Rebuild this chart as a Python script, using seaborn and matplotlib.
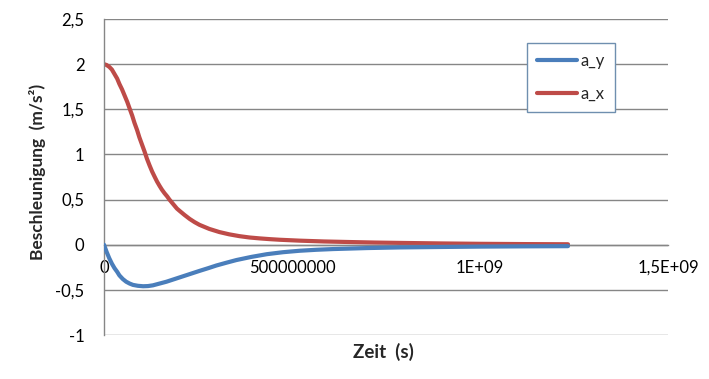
import numpy as np
import pandas as pd
import matplotlib
matplotlib.use("Agg")
import matplotlib.pyplot as plt
import seaborn as sns
from matplotlib.ticker import FixedLocator, FixedFormatter

# --- data (time in s, acceleration in m/s^2) ---
t_x = [0, 7e6, 14e6, 21e6, 28e6, 35e6, 41e6, 48e6, 55e6, 62e6, 68e6, 75e6,
       81e6, 88e6, 94e6, 101e6, 108e6, 114e6, 121e6, 128e6, 135e6, 141e6,
       148e6, 154e6, 161e6, 168e6, 174e6, 181e6, 188e6, 194e6, 201e6, 214e6,
       228e6, 241e6, 254e6, 280e6, 307e6, 333e6, 360e6, 387e6, 414e6, 440e6,
       467e6, 520e6, 585e6, 650e6, 720e6, 787e6, 900e6, 1000e6, 1120e6, 1234e6]
a_x = [2.0, 1.99, 1.97, 1.94, 1.89, 1.84, 1.78, 1.72, 1.65, 1.58, 1.51, 1.43,
       1.35, 1.27, 1.19, 1.11, 1.03, 0.955, 0.88, 0.81, 0.75, 0.70,
       0.65, 0.61, 0.57, 0.535, 0.50, 0.465, 0.43, 0.40, 0.375, 0.33,
       0.285, 0.25, 0.22, 0.175, 0.14, 0.115, 0.095, 0.08, 0.07, 0.062,
       0.055, 0.045, 0.036, 0.03, 0.024, 0.02, 0.014, 0.01, 0.007, 0.005]

t_y = [0, 7e6, 14e6, 21e6, 28e6, 35e6, 41e6, 50e6, 59e6, 68e6, 77e6, 90e6,
       104e6, 117e6, 130e6, 148e6, 166e6, 188e6, 210e6, 232e6, 254e6, 277e6,
       299e6, 325e6, 352e6, 392e6, 433e6, 476e6, 520e6, 565e6, 610e6, 700e6,
       787e6, 900e6, 1000e6, 1120e6, 1234e6]
a_y = [0, -0.08, -0.15, -0.21, -0.26, -0.30, -0.34, -0.38, -0.41, -0.43, -0.445,
       -0.455, -0.46, -0.458, -0.45, -0.43, -0.41, -0.38, -0.35, -0.32, -0.29,
       -0.26, -0.23, -0.20, -0.17, -0.135, -0.105, -0.083, -0.067, -0.056,
       -0.048, -0.037, -0.03, -0.025, -0.021, -0.018, -0.016]

y_ticks = [-1, -0.5, 0, 0.5, 1, 1.5, 2, 2.5]
y_tick_labels = ["-1", "-0,5", "0", "0,5", "1", "1,5", "2", "2,5"]
x_ticks = [0, 5e8, 1e9, 1.5e9]
x_tick_labels = ["0", "500000000", "1E+09", "1,5E+09"]

sns.set_style("white")
plt.rcParams['font.family'] = ['Lato', 'DejaVu Sans']

fig = plt.figure(figsize=(7.09, 3.79), dpi=100)
ax = fig.add_axes([104 / 709, 1 - 335 / 379, (668 - 104) / 709, (335 - 19) / 379])

grid_col = "#868686"
for v in y_ticks:
    ax.axhline(v, color=grid_col, lw=1.0, zorder=0)

sns.lineplot(x=t_y, y=a_y, ax=ax, color="#4A7EBB", lw=3, label="a_y",
             sort=False, zorder=3)
sns.lineplot(x=t_x, y=a_x, ax=ax, color="#BE4B48", lw=3, label="a_x",
             sort=False, zorder=2)

ax.set_xlim(0, 1.5e9)
ax.set_ylim(-1, 2.5)

for s in ["top", "right"]:
    ax.spines[s].set_visible(False)
ax.spines["bottom"].set_position(("data", 0))
ax.spines["bottom"].set_color(grid_col)
ax.spines["left"].set_color(grid_col)
ax.spines["bottom"].set_linewidth(1.0)
ax.spines["left"].set_linewidth(1.0)

ax.yaxis.set_major_locator(FixedLocator(y_ticks))
ax.yaxis.set_major_formatter(FixedFormatter(y_tick_labels))
ax.xaxis.set_major_locator(FixedLocator(x_ticks))
ax.xaxis.set_major_formatter(FixedFormatter(x_tick_labels))
ax.tick_params(axis="both", direction="out", length=6, width=1.0,
               color=grid_col, labelsize=12, labelcolor="black")
ax.tick_params(axis="y", pad=8)
ax.tick_params(axis="x", pad=5)

ax.set_xlabel("")
ax.set_ylabel("")
fig.text(383 / 709, 1 - 352 / 379, "Zeit  (s)", ha="center",
         va="center", fontsize=13.5, fontweight="bold")
fig.text(38 / 709, 1 - 172 / 379, "Beschleunigung  (m/s²)", ha="center",
         va="center", rotation=90, fontsize=12.5, fontweight="bold")

leg = ax.legend(loc="upper left", bbox_to_anchor=(527 / 709, 1 - 43 / 379),
                bbox_transform=fig.transFigure, borderaxespad=0,
                fontsize=12, handlelength=2.4, handletextpad=0.2,
                labelspacing=1.0, borderpad=0.6, fancybox=False,
                framealpha=1, edgecolor="#6F8FAF")
leg.get_frame().set_linewidth(1.0)

fig.savefig("out.png", dpi=100)
